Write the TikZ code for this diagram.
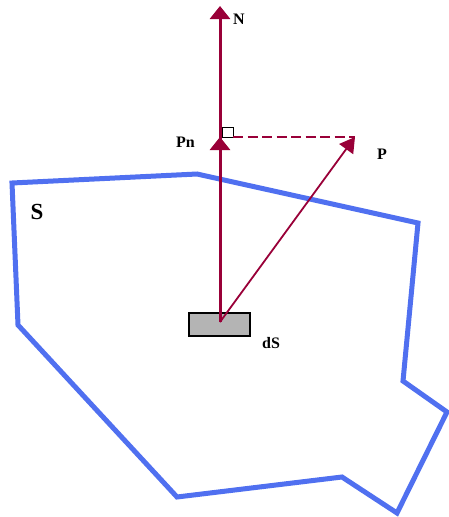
\documentclass[tikz,border=0pt]{standalone}
\usepackage{fontspec}
\setmainfont{Liberation Serif}
\usetikzlibrary{arrows.meta}
\definecolor{crim}{HTML}{990038}
\definecolor{surf}{HTML}{5070F0}
\definecolor{boxgray}{HTML}{B4B4B4}
\tikzset{
  lbl/.style={font=\bfseries\fontsize{16}{16}\selectfont, inner sep=0pt},
  vec/.style={draw=crim, line width=3pt, -{Triangle[length=13pt,width=20pt]}},
  vecthin/.style={draw=crim, line width=1.8pt, -{Triangle[length=15pt,width=17pt]}},
  surfline/.style={draw=surf, line width=5pt, line join=miter},
}
\begin{document}
\begin{tikzpicture}[x=1pt,y=-1pt]
\useasboundingbox (0,0) rectangle (448,517);
% surface S
\draw[surfline] (12,183) -- (197,174) -- (418,223) -- (403,381) -- (447,412)
  -- (397,513) -- (342,477) -- (177,497) -- (18,325) -- cycle;
% element dS
\node[draw=black, line width=2pt, fill=boxgray, minimum width=61pt, minimum height=23pt, inner sep=0pt] (ds) at (219.5,324.5) {};
\coordinate (o) at (220,322);
\coordinate (ntip) at (220,6);
\coordinate (pn) at (220,137);
\coordinate (p) at (355,137);
% right angle mark
\draw[black, line width=1pt, fill=white] (222,127) rectangle (233,137);
% dashed projection
\draw[crim, line width=1.2pt, dash pattern=on 10pt off 4.5pt] (233,137) -- (p);
% vectors
\draw[vec] (o) -- (ntip);
\draw[vec] (o) -- (pn);
\draw[vecthin] (o) -- (p);
% labels
\node[lbl, anchor=west] (nl) at (233,19) {N};
\node[lbl] (pnl) at (185.5,142) {Pn};
\node[lbl] (pl) at (382,154) {P};
\node[lbl] (dsl) at (271,343) {dS};
\node[font=\bfseries\fontsize{23}{23}\selectfont, inner sep=0pt] (sl) at (37,212) {S};
\end{tikzpicture}
\end{document}
